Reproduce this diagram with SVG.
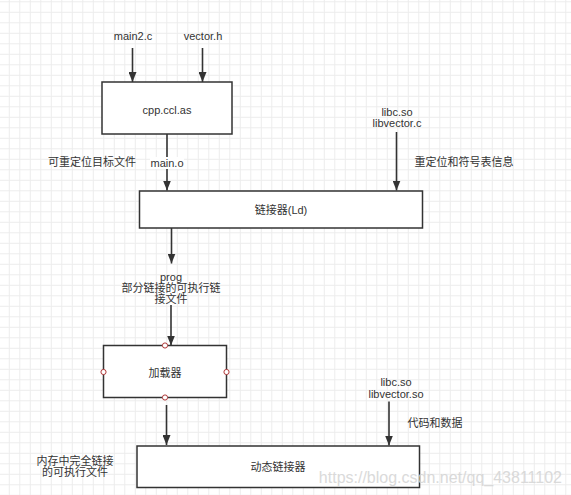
<svg xmlns="http://www.w3.org/2000/svg" width="571" height="495" viewBox="0 0 571 495">
<style>
text{font-family:"Liberation Sans","Noto Sans CJK SC",sans-serif;font-size:11px;fill:#333;text-anchor:middle;dominant-baseline:central}
.box{fill:#fff;stroke:#333;stroke-width:1.5}
.edge{fill:none;stroke:#333;stroke-width:1.6}
.pt{fill:#fff;stroke:#b23a3a;stroke-width:1}
.wm{font-size:16px;fill:#d4d4d4;text-anchor:end;opacity:0.85}
</style>
<defs>
<pattern id="grid" patternUnits="userSpaceOnUse" x="8.8" y="11.8" width="10.5" height="10.5">
<path d="M0.5,0 V10.5 M0,0.5 H10.5" fill="none" stroke="#ececec" stroke-width="1"/>
</pattern>
<marker id="arr" markerUnits="userSpaceOnUse" markerWidth="10" markerHeight="8" refX="10" refY="4" orient="auto">
<path d="M0,0 L10,4 L0,8 z" fill="#333"/>
</marker>
</defs>
<rect width="571" height="495" fill="#fff"/>
<rect width="571" height="495" fill="url(#grid)"/>

<g id="connectors">
<path class="edge" d="M132.5,48 V82" marker-end="url(#arr)"/>
<path class="edge" d="M202.5,48 V82" marker-end="url(#arr)"/>
<path class="edge" d="M167,134 V190.5" marker-end="url(#arr)"/>
<path class="edge" d="M396.5,132 V190.5" marker-end="url(#arr)"/>
<path class="edge" d="M171.5,228 V263.5" marker-end="url(#arr)"/>
<path class="edge" d="M171,305 V345.5" marker-end="url(#arr)"/>
<path class="edge" d="M166.5,405 V445" marker-end="url(#arr)"/>
<path class="edge" d="M389,401.5 V445.5" marker-end="url(#arr)"/>
<rect x="150" y="157" width="34" height="12" fill="#fff"/>
<text x="167" y="163">main.o</text>
</g>

<g id="label-main2c"><text x="133" y="36">main2.c</text></g>
<g id="label-vectorh"><text x="203" y="36">vector.h</text></g>

<g id="node-cpp">
<rect class="box" x="102" y="82" width="130" height="52"/>
<text x="167" y="109.5">cpp.ccl.as</text>
</g>

<g id="label-reloc"><text x="92" y="162">可重定位目标文件</text></g>
<g id="label-libc1">
<text x="397" y="112">libc.so</text>
<text x="397" y="123">libvector.c</text>
</g>
<g id="label-symtab"><text x="464" y="162">重定位和符号表信息</text></g>

<g id="node-ld">
<rect class="box" x="139.5" y="191" width="283" height="37"/>
<text x="281" y="210">链接器(Ld)</text>
</g>

<g id="label-prog">
<text x="171" y="277">prog</text>
<text x="171" y="288">部分链接的可执行链</text>
<text x="171" y="298.5">接文件</text>
</g>

<g id="node-loader">
<rect class="box" x="103.5" y="345.5" width="123" height="52"/>
<text x="165" y="372.5">加载器</text>
<circle class="pt" cx="165" cy="345.5" r="2.6"/>
<circle class="pt" cx="103.5" cy="372" r="2.6"/>
<circle class="pt" cx="226.5" cy="372" r="2.6"/>
<circle class="pt" cx="165" cy="397.5" r="2.6"/>
</g>

<g id="label-libc2">
<text x="396" y="382">libc.so</text>
<text x="396" y="393.5">libvector.so</text>
</g>
<g id="label-code"><text x="435" y="423">代码和数据</text></g>
<g id="label-mem">
<text x="75" y="461">内存中完全链接</text>
<text x="75" y="472">的可执行文件</text>
</g>

<g id="node-dyn">
<rect class="box" x="137" y="446" width="282.5" height="41.5"/>
<text x="278" y="466.5">动态链接器</text>
</g>

<text class="wm" x="562" y="477">https://blog.csdn.net/qq_43811102</text>
</svg>
